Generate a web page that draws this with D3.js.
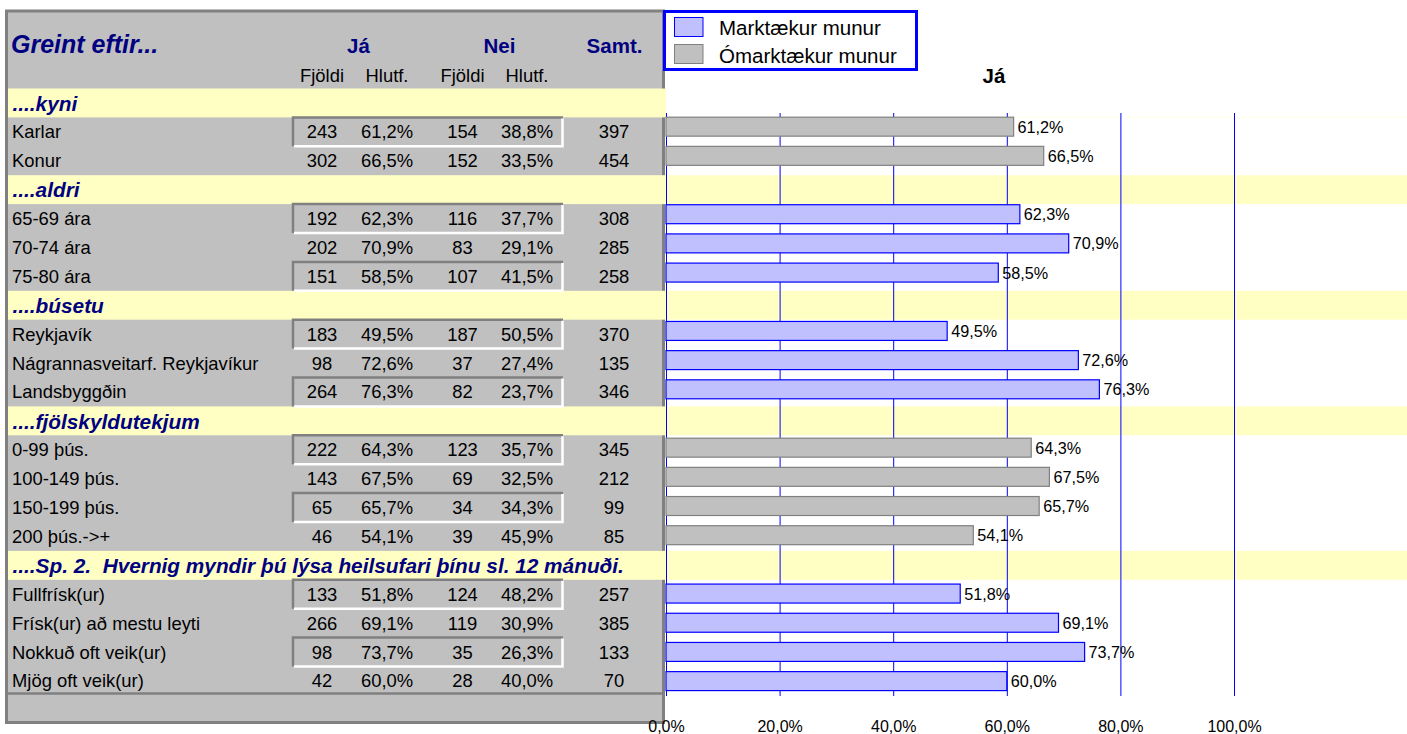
<!DOCTYPE html>
<html>
<head>
<meta charset="utf-8">
<script src="https://cdn.jsdelivr.net/npm/d3@7"></script>
<style>
  body { margin: 0; background: #fff; }
  svg { display: block; font-family: "Liberation Sans", Arial, sans-serif; }
</style>
</head>
<body>
<script>
(() => {
    const groupTitles = ["....kyni", "....aldri", "....búsetu", "....fjölskyldutekjum",
        "....Sp. 2.  Hvernig myndir þú lýsa heilsufari þínu sl. 12 mánuði."]
    const groupSignificant = [false, true, true, false, true]
    const rowGroup = [0, 0, 1, 1, 1, 2, 2, 2, 3, 3, 3, 3, 4, 4, 4, 4]
    const rowLabels = ["Karlar", "Konur", "65-69 ára", "70-74 ára", "75-80 ára",
        "Reykjavík", "Nágrannasveitarf. Reykjavíkur", "Landsbyggðin",
        "0-99 þús.", "100-149 þús.", "150-199 þús.", "200 þús.->+",
        "Fullfrísk(ur)", "Frísk(ur) að mestu leyti", "Nokkuð oft veik(ur)", "Mjög oft veik(ur)"]
    const jaCount = [243, 302, 192, 202, 151, 183, 98, 264, 222, 143, 65, 46, 133, 266, 98, 42]
    const jaPct = [61.2, 66.5, 62.3, 70.9, 58.5, 49.5, 72.6, 76.3, 64.3, 67.5, 65.7, 54.1, 51.8, 69.1, 73.7, 60.0]
    const neiCount = [154, 152, 116, 83, 107, 187, 37, 82, 123, 69, 34, 39, 124, 119, 35, 28]
    const neiPct = [38.8, 33.5, 37.7, 29.1, 41.5, 50.5, 27.4, 23.7, 35.7, 32.5, 34.3, 45.9, 48.2, 30.9, 26.3, 40.0]
    const totals = [397, 454, 308, 285, 258, 370, 135, 346, 345, 212, 99, 85, 257, 385, 133, 70]
    const xTicks = [0, 20, 40, 60, 80, 100]
    const legendLabels = ["Marktækur munur", "Ómarktækur munur"]

    const gray = "#c0c0c0", dark = "#808080", yellow = "#ffffc4", navy = "#000080", blue = "#0000ff"
    const pct = (v) => d3.format(".1f")(v).replace(".", ",") + "%"

    // one line per section heading, then its rows
    const lines = []
    groupTitles.forEach((t, g) => {
        lines.push({ section: true, label: t, group: g })
        let k = 0
        rowGroup.forEach((rg, i) => {
            if (rg === g) lines.push({ section: false, i, group: g, boxed: k++ % 2 === 0 })
        })
    })

    const W = 1407, H = 734
    const svg = d3.select("body").append("svg").attr("width", W).attr("height", H)

    const yTable = d3.scaleBand().domain(d3.range(lines.length)).range([88.5, 88.5 + 28.9 * lines.length])
    const yChart = d3.scaleBand().domain(d3.range(lines.length)).range([82.9, 695.7])
        .paddingInner(0.35).paddingOuter(0.175)
    const x = d3.scaleLinear().domain([0, 100]).range([666, 1234])

    // table panel
    svg.append("rect").attr("x", 7).attr("y", 11).attr("width", 657).attr("height", 712).attr("fill", gray)
    svg.append("line").attr("x1", 663.5).attr("x2", 663.5).attr("y1", 10).attr("y2", 724)
        .attr("stroke", dark).attr("stroke-width", 3)

    // yellow section rows
    const secs = lines.map((d, j) => ({ ...d, j })).filter((d) => d.section)
    svg.selectAll("rect.sec").data(secs).join("rect")
        .attr("x", 8).attr("y", (d) => yTable(d.j))
        .attr("width", 658).attr("height", yTable.bandwidth()).attr("fill", yellow)
    svg.selectAll("rect.secc").data(secs).join("rect")
        .attr("x", 665)
        .attr("y", (d) => Math.max(117, yTable(d.j)))
        .attr("width", W - 665)
        .attr("height", (d) => Math.max(0, yTable(d.j) + yTable.bandwidth() - Math.max(117, yTable(d.j))))
        .attr("fill", yellow)

    // borders
    svg.append("line").attr("x1", 6.5).attr("x2", 6.5).attr("y1", 10).attr("y2", 724)
        .attr("stroke", dark).attr("stroke-width", 3)
    svg.append("line").attr("x1", 5).attr("x2", 665).attr("y1", 11).attr("y2", 11)
        .attr("stroke", dark).attr("stroke-width", 3)
    svg.append("line").attr("x1", 7).attr("x2", 665).attr("y1", 693.5).attr("y2", 693.5)
        .attr("stroke", dark).attr("stroke-width", 2.5)
    svg.append("line").attr("x1", 5).attr("x2", 665).attr("y1", 722.5).attr("y2", 722.5)
        .attr("stroke", dark).attr("stroke-width", 3)

    // header
    svg.append("text").attr("x", 11).attr("y", 53).text("Greint eftir...")
        .attr("font-size", 25).attr("font-weight", "bold").attr("font-style", "italic").attr("fill", navy)
    const heads = [["Já", 358.5], ["Nei", 499.5], ["Samt.", 614.5]]
    svg.selectAll("text.head").data(heads).join("text")
        .attr("x", (d) => d[1]).attr("y", 53).attr("text-anchor", "middle")
        .attr("font-size", 20.5).attr("font-weight", "bold").attr("fill", navy).text((d) => d[0])
    const cols = [322, 387, 462.5, 527, 614]
    const subs = ["Fjöldi", "Hlutf.", "Fjöldi", "Hlutf."]
    svg.selectAll("text.sub").data(subs).join("text")
        .attr("x", (_, i) => cols[i]).attr("y", 81.5).attr("text-anchor", "middle")
        .attr("font-size", 18.4).text((d) => d)

    // section titles
    svg.selectAll("text.sec").data(secs).join("text")
        .attr("x", 12.5).attr("y", (d) => yTable(d.j) + yTable.bandwidth() / 2 + 7.7)
        .attr("font-size", 20.8).attr("font-weight", "bold").attr("font-style", "italic")
        .style("white-space", "pre")
        .attr("fill", navy).text((d) => d.label)

    // data rows
    const rows = lines.map((d, j) => ({ ...d, j })).filter((d) => !d.section)
    const rowG = svg.selectAll("g.row").data(rows).join("g")
        .attr("transform", (d) => `translate(0,${yTable(d.j)})`)
    const bh = yTable.bandwidth()
    rowG.filter((d) => d.boxed).append("path")
        .attr("d", `M293,${bh} V0 H563`).attr("fill", "none").attr("stroke", dark).attr("stroke-width", 2.5)
    rowG.filter((d) => d.boxed).append("path")
        .attr("d", `M294,${bh} H562.5 V1`).attr("fill", "none").attr("stroke", "#fff").attr("stroke-width", 2.5)
    rowG.append("text").attr("x", 12).attr("y", bh / 2 + 6.5).attr("font-size", 18.4)
        .text((d) => rowLabels[d.i])
    rowG.each(function (d) {
        const vals = [jaCount[d.i], pct(jaPct[d.i]), neiCount[d.i], pct(neiPct[d.i]), totals[d.i]]
        d3.select(this).selectAll("text.v").data(vals).join("text")
            .attr("x", (_, k) => cols[k]).attr("y", bh / 2 + 6.5)
            .attr("text-anchor", "middle").attr("font-size", 18.4).text((v) => v)
    })

    // chart gridlines and axis
    const axis = svg.append("g").attr("transform", "translate(0,696)")
        .call(d3.axisBottom(x).tickValues(xTicks).tickSizeInner(-583).tickSizeOuter(0)
            .tickPadding(25).tickFormat((v) => pct(v)))
    axis.select(".domain").remove()
    axis.selectAll(".tick line").attr("stroke", blue)
    axis.selectAll(".tick text").attr("fill", "#000").attr("font-size", 16)
        .attr("font-family", "Liberation Sans, Arial, sans-serif")

    // bars
    svg.selectAll("rect.bar").data(rows).join("rect")
        .attr("x", x(0))
        .attr("y", (d) => yChart(d.j))
        .attr("width", (d) => x(jaPct[d.i]) - x(0))
        .attr("height", yChart.bandwidth())
        .attr("fill", (d) => groupSignificant[d.group] ? "#c0c0ff" : gray)
        .attr("stroke", (d) => groupSignificant[d.group] ? blue : dark)
        .attr("stroke-width", 1.2)
    svg.selectAll("text.val").data(rows).join("text")
        .attr("x", (d) => x(jaPct[d.i]) + 4)
        .attr("y", (d) => yChart(d.j) + yChart.bandwidth() / 2 + 6)
        .attr("font-size", 16.2).text((d) => pct(jaPct[d.i]))

    // chart title
    svg.append("text").attr("x", 994).attr("y", 83).attr("text-anchor", "middle")
        .attr("font-size", 20.5).attr("font-weight", "bold").text("Já")

    // legend
    const lg = svg.append("g")
    lg.append("rect").attr("x", 664.5).attr("y", 11.5).attr("width", 252).attr("height", 58)
        .attr("fill", "#fff").attr("stroke", blue).attr("stroke-width", 3)
    const sw = [["#c0c0ff", blue, 17.5], [gray, dark, 44.5]]
    lg.selectAll("rect.sw").data(sw).join("rect")
        .attr("x", 674.5).attr("y", (d) => d[2]).attr("width", 28.5).attr("height", 19)
        .attr("fill", (d) => d[0]).attr("stroke", (d) => d[1])
    lg.selectAll("text").data(legendLabels).join("text")
        .attr("x", 719).attr("y", (_, i) => [35, 62.5][i]).attr("font-size", 20.5).text((d) => d)
})()
</script>
</body>
</html>
